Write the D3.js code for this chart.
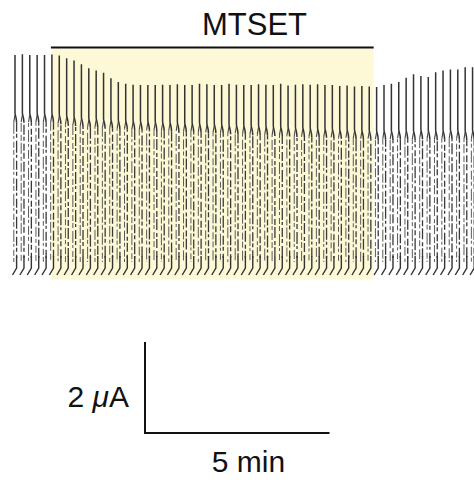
<!DOCTYPE html>
<html>
<head>
<meta charset="utf-8">
<script src="https://cdn.jsdelivr.net/npm/d3@7"></script>
<style>
    html, body { margin: 0; padding: 0; background: #fff; }
    svg { display: block; font-family: "Liberation Sans", Arial, Helvetica, sans-serif; }
</style>
</head>
<body>
<div id="chart"></div>
<script>
// sweep interval (min) between consecutive voltage-step sweeps
const sweepInterval = 0.2;

// peak current of each sweep (uA)
const peakCurrent = [
    4.68, 4.70, 4.68, 4.68, 4.68, 4.69, 4.67,
    4.61, 4.56, 4.48, 4.39, 4.34, 4.29, 4.17, 4.09, 4.05,
    4.03, 4.02, 4.02, 4.02, 4.03, 4.02, 4.04, 4.02, 4.02, 4.05,
    4.04, 4.02, 4.02, 4.05, 4.03, 4.02, 4.02, 4.04, 4.03, 4.02,
    4.05, 4.01, 4.03, 4.04, 4.03, 4.04, 4.02, 4.02, 4.00, 4.01,
    3.99, 4.00, 3.99,
    3.98, 4.02, 4.05, 4.09, 4.18, 4.26, 4.22, 4.20, 4.30, 4.34,
    4.36, 4.36, 4.41, 4.41
];

// current at the end of the fast decay (knee) of each sweep (uA)
const kneeCurrent = [
    3.41, 3.41, 3.41, 3.41, 3.41, 3.41,
    3.38, 3.36, 3.34, 3.32, 3.30, 3.30, 3.28, 3.28, 3.26, 3.26,
    3.25, 3.24, 3.24, 3.23, 3.22, 3.22, 3.21, 3.20, 3.20, 3.19,
    3.18, 3.18, 3.17, 3.16, 3.16, 3.15, 3.14, 3.14, 3.13, 3.12,
    3.12, 3.11, 3.10, 3.10, 3.09, 3.08, 3.08, 3.07, 3.06, 3.06,
    3.05, 3.04, 3.04,
    3.03, 3.04, 3.03, 3.05, 3.04, 3.03, 3.05, 3.04, 3.03, 3.04,
    3.05, 3.04, 3.03, 3.04
];

// MTSET application window (min)
const mtsetStart = 1.0;
const mtsetEnd = 9.72;
const mtsetLabel = "MTSET";

// scale bars
const scaleCurrent = 2;   // uA
const scaleTime = 5;      // min

const width = 474;
const height = 483;

const svg = d3.select("#chart")
    .append("svg")
    .attr("width", width)
    .attr("height", height);

const nSweeps = peakCurrent.length;
const tMax = (nSweeps - 1) * sweepInterval;

// time -> x
const xScale = d3.scaleLinear()
    .domain([0, tMax])
    .range([15, 15 + tMax * 36.9]);

// current -> y
const yScale = d3.scaleLinear()
    .domain([0, 5])
    .range([268, 268 - 5 * 45.5]);

const sweeps = peakCurrent.map((p, i) => ({
    t: i * sweepInterval,
    peak: p,
    knee: kneeCurrent[i],
    i: i
}));

// shaded MTSET region
svg.append("rect")
    .attr("x", xScale(mtsetStart))
    .attr("y", 48.5)
    .attr("width", xScale(mtsetEnd) - xScale(mtsetStart))
    .attr("height", 231)
    .attr("fill", "#fdf9d6");

// bar + label
svg.append("line")
    .attr("x1", xScale(mtsetStart) - 1)
    .attr("x2", xScale(mtsetEnd))
    .attr("y1", 47.5)
    .attr("y2", 47.5)
    .attr("stroke", "#111")
    .attr("stroke-width", 2.2);

svg.append("text")
    .attr("x", 254.5)
    .attr("y", 35)
    .attr("text-anchor", "middle")
    .style("font-size", "31px")
    .attr("fill", "#111")
    .text(mtsetLabel);

// traces
const traces = svg.append("g").attr("class", "traces");
const y0 = yScale(0);
const dashSets = ["9 2 4 3 12 2 3 3", "6 3 10 2 4 3 7 2", "12 2 3 3 6 2 5 3", "4 2 9 3 6 2 11 3"];

sweeps.forEach((d) => {
    const x = xScale(d.t);
    const yp = yScale(d.peak);
    const yk = yScale(d.knee);
    const g = traces.append("g");

    // fast part: peak down to the knee, then splitting
    g.append("path")
        .attr("d", `M${x},${yp} L${x},${yk} C${x},${yk + 3} ${x + 1.6},${yk + 4} ${x + 1.6},${yk + 10}`)
        .attr("fill", "none")
        .attr("stroke", "#333")
        .attr("stroke-width", 1.5);
    g.append("path")
        .attr("d", `M${x},${yk + 2} L${x - 1.2},${yk + 9}`)
        .attr("fill", "none")
        .attr("stroke", "#444")
        .attr("stroke-width", 1.1);

    // slow part: two noisy strands
    g.append("line")
        .attr("x1", x + 1.6).attr("x2", x + 1.6)
        .attr("y1", yk + 10).attr("y2", y0 - 10)
        .attr("stroke", "#3a3a3a")
        .attr("stroke-width", 1.3)
        .attr("stroke-dasharray", dashSets[d.i % 4])
        .attr("stroke-dashoffset", (d.i * 7) % 23);
    g.append("line")
        .attr("x1", x - 1.2).attr("x2", x - 1.2)
        .attr("y1", yk + 9).attr("y2", y0 - 6)
        .attr("stroke", "#5a5a5a")
        .attr("stroke-width", 1)
        .attr("stroke-dasharray", dashSets[(d.i + 2) % 4])
        .attr("stroke-dashoffset", (d.i * 5) % 19);

    // tail + foot
    g.append("path")
        .attr("d", `M${x + 1.6},${y0 - 12} L${x + 1.6},${y0} L${x - 2.5},${y0 + 7}`)
        .attr("fill", "none")
        .attr("stroke", "#333")
        .attr("stroke-width", 1.4);
});

// scale bars
const sbX = 145;
const sbY = 433;
const sbH = yScale(0) - yScale(scaleCurrent);
const sbW = xScale(scaleTime) - xScale(0);

svg.append("path")
    .attr("d", `M${sbX},${sbY - sbH} L${sbX},${sbY} L${sbX + sbW},${sbY}`)
    .attr("fill", "none")
    .attr("stroke", "#111")
    .attr("stroke-width", 2);

const yLab = svg.append("text")
    .attr("x", sbX - 16)
    .attr("y", 407)
    .attr("text-anchor", "end")
    .style("font-size", "30px")
    .attr("fill", "#111");
yLab.append("tspan").text(scaleCurrent + " ");
yLab.append("tspan").style("font-style", "italic").text("\u03bc");
yLab.append("tspan").text("A");

svg.append("text")
    .attr("x", 248.5)
    .attr("y", 472)
    .attr("text-anchor", "middle")
    .style("font-size", "30px")
    .attr("fill", "#111")
    .text(scaleTime + " min");
</script>
</body>
</html>
